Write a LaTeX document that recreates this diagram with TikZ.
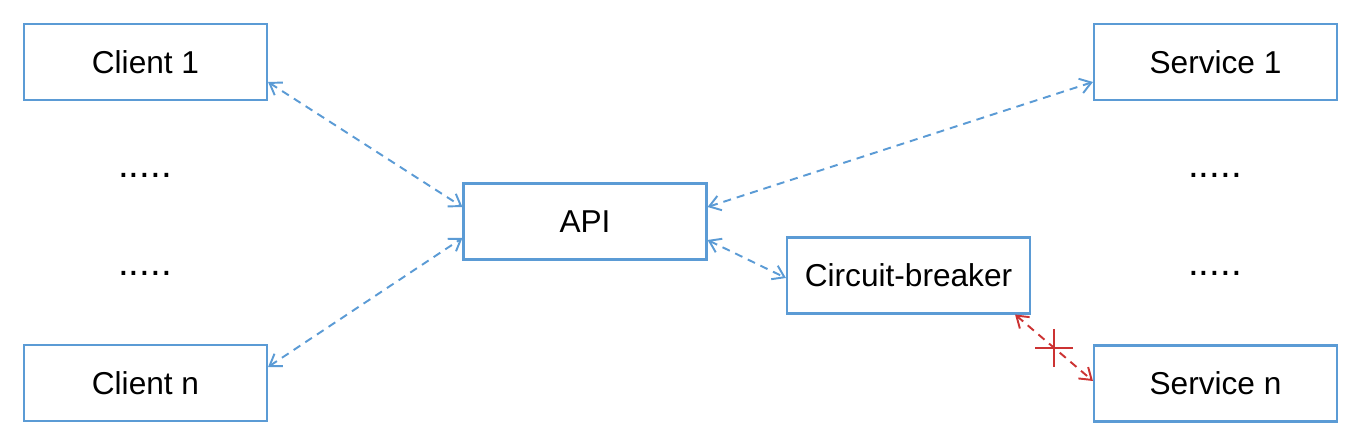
\documentclass[tikz,border=0pt]{standalone}
\usepackage{fontspec}
\setmainfont{Liberation Sans}
\usetikzlibrary{arrows.meta}
\definecolor{boxblue}{RGB}{91,155,213}
\definecolor{brkred}{RGB}{204,51,51}

\begin{document}
\begin{tikzpicture}
[box/.style={draw=boxblue,line width=1.2pt,minimum width=4.86cm,minimum height=1.52cm,inner sep=0pt,font=\fontsize{18}{21}\selectfont},
 dots/.style={font=\fontsize{22}{24}\selectfont},
 link/.style={draw=boxblue,line width=1.1pt,dash pattern=on 0.16cm off 0.12cm,{Straight Barb[length=0.22cm,width=0.3cm]}-{Straight Barb[length=0.22cm,width=0.3cm]}},
 brk/.style={link,draw=brkred}]
\useasboundingbox (0,0) rectangle (27.24,-8.96);
\node[box](c1) at (2.91,-1.24){Client 1};
\node[box](cn) at (2.91,-7.66){Client n};
\node[box](s1) at (24.31,-1.24){Service 1};
\node[box](sn) at (24.31,-7.67){Service n};
\node[box](api) at (11.70,-4.43){API};
\node[box](cb) at (18.17,-5.51){Circuit-breaker};
\node[dots](d1) at (2.90,-3.50){.....};
\node[dots](d2) at (2.90,-5.46){.....};
\node[dots](d3) at (24.30,-3.50){.....};
\node[dots](d4) at (24.30,-5.46){.....};
\draw[link] ([yshift=-0.4cm]c1.east) -- ([yshift=0.29cm]api.west);
\draw[link] ([yshift=0.32cm]cn.east) -- ([yshift=-0.33cm]api.west);
\draw[link] ([yshift=0.29cm]api.east) -- ([yshift=-0.4cm]s1.west);
\draw[link] ([yshift=-0.37cm]api.east) -- ([yshift=-0.05cm]cb.west);
\draw[brk] ([xshift=-0.32cm]cb.south east) -- ([yshift=0.05cm]sn.west)
  node[midway,minimum size=0.72cm,inner sep=0pt](x){};
\draw[brkred,line width=1.1pt] (x.west) -- (x.east) (x.north) -- (x.south);
\end{tikzpicture}
\end{document}
